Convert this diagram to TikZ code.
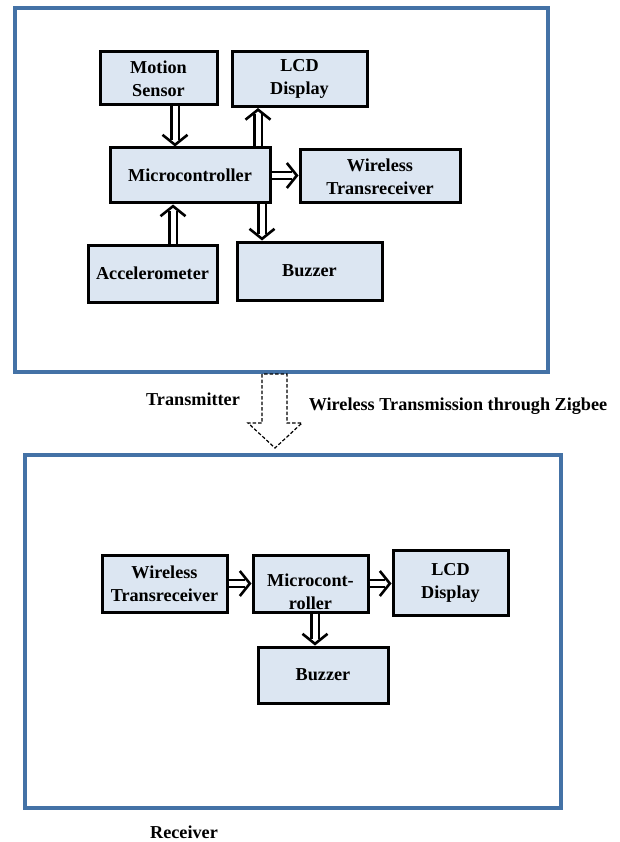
\documentclass[tikz,border=0pt]{standalone}
\usepackage{fontspec}
\setmainfont{Liberation Serif}
\usepackage{tikz}
\usetikzlibrary{arrows.meta}

\definecolor{framecol}{RGB}{68,114,166}
\definecolor{boxcol}{RGB}{220,230,242}

\tikzset{
	block/.style={shape=rectangle,draw=black,line width=3pt,fill=boxcol,align=center,
		font=\fontsize{18.2}{23}\selectfont\bfseries,inner sep=2pt},
	frame/.style={shape=rectangle,draw=framecol,line width=3.8pt,fill=white},
	dbl/.style={draw=white,line width=5pt,
		-{Straight Barb[length=10pt,width=25pt,line width=2.6pt,color=black]},
		preaction={draw=black,line width=9.6pt,-,shorten >=6.5pt}},
	lbl/.style={font=\fontsize{18.2}{23}\selectfont\bfseries}
}

\begin{document}
\begin{tikzpicture}[x=1pt,y=-1pt]
	\useasboundingbox (0,0) rectangle (619,842);

	% outer frames
	\node[frame,minimum width=533,minimum height=364] (tx) at (281.5,190) {};
	\node[frame,minimum width=536,minimum height=353] (rx) at (293,631.5) {};

	% transmitter side
	\node[block,minimum width=117,minimum height=53] (ms)  at (158.5,78.5) {Motion\\Sensor};
	\node[block,minimum width=135,minimum height=55] (lcd) at (299.5,79)   {LCD\\Display};
	\node[block,minimum width=160,minimum height=55] (mc)  at (190,175.5)  {Microcontroller};
	\node[block,minimum width=160,minimum height=53] (wt)  at (380,176.5)  {Wireless\\Transreceiver};
	\node[block,minimum width=129,minimum height=57] (acc) at (152.5,273.5) {Accelerometer};
	\node[block,minimum width=145,minimum height=58] (bz)  at (309.5,271)  {Buzzer};

	\draw[dbl] ([xshift=16.5]ms.south) -- ([xshift=16.5]ms.south |- mc.north);
	\draw[dbl] ([xshift=68]mc.north) -- ([xshift=68]mc.north |- lcd.south);
	\draw[dbl] (mc.east) -- (mc.east -| wt.west);
	\draw[dbl] ([xshift=72]mc.south) -- ([xshift=72]mc.south |- bz.north);
	\draw[dbl] ([xshift=20.5]acc.north) -- ([xshift=20.5]acc.north |- mc.south);

	% zigbee link
	\draw[line width=1.2pt,dash pattern=on 3.5pt off 2pt,fill=white]
		(262,374) -- (262,423) -- (248,423) -- (275,448) -- (302,423) -- (287,423) -- (287,374) -- cycle;
	\node[lbl] (txl) at (193,399) {Transmitter};
	\node[lbl] (zig) at (458,406) {Wireless Transmission through Zigbee};

	% receiver side
	\node[block,minimum width=125,minimum height=57] (wt2) at (164.5,583.5) {Wireless\\Transreceiver};
	\node[block,minimum width=115,minimum height=57] (mc2) at (310.5,583.5)
		{\raisebox{-14pt}[0pt][0pt]{\begin{tabular}{@{}c@{}}Microcont-\\roller\end{tabular}}};
	\node[block,minimum width=115,minimum height=65] (lcd2) at (450.5,582.5) {LCD\\Display};
	\node[block,minimum width=130,minimum height=56] (bz2) at (323,675) {Buzzer};

	\draw[dbl] (wt2.east) -- (wt2.east -| mc2.west);
	\draw[dbl] (mc2.east) -- (mc2.east -| lcd2.west);
	\draw[dbl] ([xshift=4.5]mc2.south) -- ([xshift=4.5]mc2.south |- bz2.north);

	\node[lbl] (rxl) at (184,832) {Receiver};
\end{tikzpicture}
\end{document}
